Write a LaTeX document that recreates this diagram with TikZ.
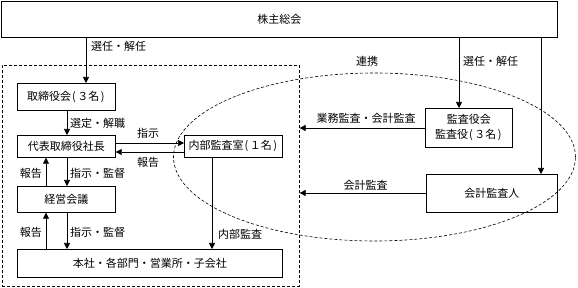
\documentclass[tikz,border=0pt]{standalone}
\usepackage{fontspec}
\setmainfont{Noto Sans CJK JP}
\usetikzlibrary{shapes.geometric,arrows.meta}
\newcommand{\lpar}{\kern1pt(\kern1.5pt}
\newcommand{\rpar}{\kern1.5pt)\kern1pt}
\begin{document}
\begin{tikzpicture}[x=1pt,y=-1pt,
  every node/.append style={font=\fontsize{11}{15}\selectfont},
  box/.style={draw, line width=0.7pt, inner sep=0pt, anchor=north west},
  dbox/.style={draw, line width=0.6pt, dash pattern=on 3pt off 2pt, inner sep=0pt, anchor=north west},
  arr/.style={draw, line width=0.7pt, -{Triangle[length=6pt,width=6pt]}},
  lbl/.style={inner sep=0pt}]
\useasboundingbox (0,0) rectangle (578,288);
% column / row helpers
\coordinate (c86) at (86,0);
\coordinate (c67) at (67,0);
\coordinate (c46) at (46,0);
\coordinate (c212) at (212,0);
\coordinate (c459) at (459,0);
\coordinate (c541) at (541,0);
\coordinate (r143) at (0,143);
\coordinate (r152) at (0,152);
\coordinate (r128) at (0,128);
\coordinate (r193) at (0,193);
% boxes
\node[box, minimum width=556pt, minimum height=36pt] (kabu) at (1,1) {株主総会};
\node[dbox, minimum width=297pt, minimum height=221pt] (grp) at (2,65) {};
\node[box, minimum width=98pt, minimum height=27pt] (tori) at (17,83) {取締役会\lpar ３名\rpar};
\node[box, minimum width=98pt, minimum height=22pt] (daihyo) at (17,135) {代表取締役社長};
\node[box, minimum width=98pt, minimum height=26pt] (keiei) at (17,186) {経営会議};
\node[box, minimum width=265pt, minimum height=28pt] (honsha) at (17,249) {本社・各部門・営業所・子会社};
\node[box, minimum width=98pt, minimum height=22pt] (naibu) at (184,135) {内部監査室\lpar １名\rpar};
\node[box, minimum width=87pt, minimum height=39pt, align=center] (kansa) at (425,108) {監査役会\\監査役\lpar ３名\rpar};
\node[box, minimum width=131pt, minimum height=38pt] (kaikei) at (426,174) {会計監査人};
\node[ellipse, draw, line width=0.6pt, dash pattern=on 3pt off 2pt, minimum width=402pt, minimum height=168pt, inner sep=0pt] (renkei) at (374.5,157) {};
% arrows
\draw[arr] (kabu.south -| c86) -- (tori.north -| c86);
\draw[arr] (tori.south -| c67) -- (daihyo.north -| c67);
\draw[arr] (daihyo.south -| c67) -- (keiei.north -| c67);
\draw[arr] (keiei.north -| c46) -- (daihyo.south -| c46);
\draw[arr] (keiei.south -| c67) -- (honsha.north -| c67);
\draw[arr] (honsha.north -| c46) -- (keiei.south -| c46);
\draw[arr] (daihyo.east |- r143) -- (naibu.west |- r143);
\draw[arr] (naibu.west |- r152) -- (daihyo.east |- r152);
\draw[arr] (naibu.south -| c212) -- (honsha.north -| c212);
\draw[arr] (kabu.south -| c459) -- (kansa.north -| c459);
\draw[arr] (kabu.south -| c541) -- (kaikei.north -| c541);
\draw[arr] (kansa.west |- r128) -- (grp.east |- r128);
\draw[arr] (kaikei.west |- r193) -- (grp.east |- r193);
% labels
\node[lbl, anchor=west] (l1) at (91,46) {選任・解任};
\node[lbl, anchor=west] (l2) at (70,123) {選定・解職};
\node[lbl, anchor=west] (l3) at (70,173) {指示・監督};
\node[lbl, anchor=east] (l4) at (42,173) {報告};
\node[lbl, anchor=west] (l5) at (70,232) {指示・監督};
\node[lbl, anchor=east] (l6) at (42,232) {報告};
\node[lbl] (l7) at (148,133) {指示};
\node[lbl] (l8) at (148,162) {報告};
\node[lbl, anchor=west] (l9) at (218,234) {内部監査};
\node[lbl, anchor=west] (l10) at (463,61) {選任・解任};
\node[lbl] (l11) at (367,61) {連携};
\node[lbl] (l12) at (366,118) {業務監査・会計監査};
\node[lbl] (l13) at (365.5,185) {会計監査};
\end{tikzpicture}
\end{document}
